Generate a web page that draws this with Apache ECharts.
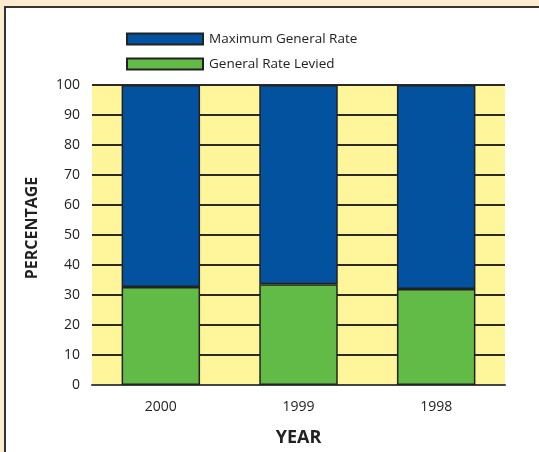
<!DOCTYPE html>
<html>
<head>
<meta charset="utf-8">
<script src="https://cdn.jsdelivr.net/npm/echarts@6/dist/echarts.min.js"></script>
<style>
  html, body { margin: 0; padding: 0; background: #fdebd0; }
  #chart { width: 539px; height: 452px; }
</style>
</head>
<body>
<div id="chart"></div>
<script>
const categories = ['2000', '1999', '1998'];
const rateLevied = [32.7, 33.6, 32.0];
const maxGeneralRemainder = [67.3, 66.4, 68.0];
const yTicks = [0, 10, 20, 30, 40, 50, 60, 70, 80, 90, 100];

const FONT = '"Open Sans", "Noto Sans", sans-serif';
const chart = echarts.init(document.getElementById('chart'), null, { renderer: 'canvas' });
chart.setOption({
  backgroundColor: '#fdebd0',
  animation: false,
  graphic: [
    { type: 'rect', z: -10, shape: { x: 5, y: 7, width: 540, height: 450 }, style: { fill: '#ffffff', stroke: '#333333', lineWidth: 2 } }
  ],
  legend: {
    orient: 'vertical',
    left: 121,
    top: 27,
    itemWidth: 76,
    itemHeight: 11,
    itemGap: 11,
    icon: 'rect',
    data: ['Maximum General Rate', 'General Rate Levied'],
    textStyle: { fontFamily: FONT, fontSize: 13.5, color: '#222', padding: [0, 0, 0, 1] }
  },
  grid: {
    left: 92, right: 34, top: 85, bottom: 61,
    show: true, backgroundColor: '#fff59a', borderWidth: 0
  },
  xAxis: {
    type: 'category',
    data: categories,
    name: 'YEAR',
    nameLocation: 'middle',
    nameGap: 44,
    nameTextStyle: { fontFamily: FONT, fontSize: 18, fontWeight: 'bold', color: '#222' },
    axisLine: { show: true, lineStyle: { color: '#444', width: 2 } },
    axisTick: { show: false },
    axisLabel: { fontFamily: FONT, fontSize: 14, color: '#222', margin: 15 }
  },
  yAxis: {
    type: 'value',
    min: 0, max: 100, interval: 10,
    name: 'PERCENTAGE',
    nameLocation: 'middle',
    nameRotate: 90,
    nameGap: 52,
    nameTextStyle: { fontFamily: FONT, fontSize: 16, fontWeight: 'bold', color: '#222', padding: [0, 0, 0, 14] },
    axisLine: { show: false },
    axisTick: { show: false },
    axisLabel: { fontFamily: FONT, fontSize: 14, color: '#222', margin: 12,
      formatter: v => yTicks.includes(v) ? String(v) : '' },
    splitLine: { show: true, lineStyle: { color: '#2a2a2a', width: 2 } }
  },
  series: [
    {
      name: 'General Rate Levied', type: 'bar', stack: 'total', barWidth: '57%',
      data: rateLevied,
      itemStyle: { color: '#62bb46', borderColor: '#222', borderWidth: 1.5 }
    },
    {
      name: 'Maximum General Rate', type: 'bar', stack: 'total', barWidth: '57%',
      data: maxGeneralRemainder,
      itemStyle: { color: '#02529f', borderColor: '#222', borderWidth: 1.5 }
    }
  ]
});
</script>
</body>
</html>
